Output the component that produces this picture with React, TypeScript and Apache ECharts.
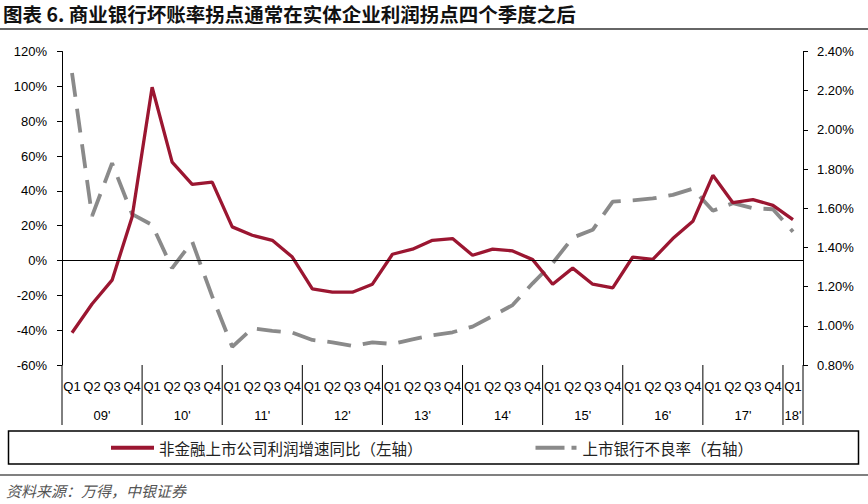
import React, { useEffect, useRef } from "react";
import * as echarts from "echarts";

const YEARS = ["09'", "10'", "11'", "12'", "13'", "14'", "15'", "16'", "17'", "18'"];
const QUARTERS_PER_YEAR = [4, 4, 4, 4, 4, 4, 4, 4, 4, 1];
const QUARTER_NAMES = ["Q1", "Q2", "Q3", "Q4"];

// 非金融上市公司利润增速同比 (%), left axis
const PROFIT_GROWTH = [
  -41.5, -25, -11.3, 25,
  99.5, 56.5, 43.7, 45,
  19.3, 14.5, 11.6, 2,
  -16.3, -18.2, -18.2, -13.6,
  3.6, 6.5, 11.6, 12.6,
  3, 6.5, 5.5, 0.5,
  -13.6, -4.4, -13.6, -15.7,
  2, 0.6, 12.6, 22.5,
  48.9, 33.2, 35, 31.7,
  23.5,
];

// 上市银行不良率 (%), right axis
const NPL_RATIO = [
  2.29, 1.56, 1.83, 1.57,
  1.515, 1.294, 1.43, 1.15,
  0.893, 0.987, 0.974, 0.965,
  0.928, 0.916, 0.897, 0.916,
  0.907, 0.931, 0.952, 0.967,
  0.996, 1.05, 1.106, 1.217,
  1.32, 1.45, 1.49, 1.634,
  1.64, 1.65, 1.668, 1.7,
  1.587, 1.626, 1.6, 1.595,
  1.48,
];

const LEFT_TICKS = { min: -60, max: 120, interval: 20 };
const RIGHT_TICKS = { min: 0.8, max: 2.4, interval: 0.2 };

const TITLE = "图表 6. 商业银行坏账率拐点通常在实体企业利润拐点四个季度之后";
const SOURCE = "资料来源：万得，中银证券";
const NAME_PROFIT = "非金融上市公司利润增速同比（左轴）";
const NAME_NPL = "上市银行不良率（右轴）";

const CATEGORIES: string[] = [];
const YEAR_SPANS: number[][] = [];
YEARS.forEach((y, k) => {
  YEAR_SPANS.push([CATEGORIES.length, QUARTERS_PER_YEAR[k], k]);
  for (let q = 0; q < QUARTERS_PER_YEAR[k]; q++) CATEGORIES.push(QUARTER_NAMES[q]);
});

const FONT = "'Liberation Sans', Arial, 'Noto Sans CJK SC', sans-serif";
const CJK = "'Noto Sans CJK SC', sans-serif";

export default function App() {
  const ref = useRef<HTMLDivElement>(null);
  useEffect(() => {
    if (!ref.current) return;
    const chart = echarts.init(ref.current, null, { renderer: "svg" });
    const option: any = {
      animation: false,
      backgroundColor: "#ffffff",
      textStyle: { fontFamily: FONT },
      grid: { left: 62, right: 65, top: 51.5, bottom: 139, containLabel: false },
      legend: {
        data: [
          { name: NAME_PROFIT, icon: "rect" },
          { name: NAME_NPL, icon: "path://M0,0H29V4H0Z M36,0H41V4H36Z" },
        ],
        left: 111,
        top: 440,
        padding: 0,
        itemWidth: 43,
        itemHeight: 4,
        itemGap: 113,
        itemStyle: { borderWidth: 0 },
        textStyle: { fontFamily: CJK, fontSize: 15.5, color: "#222" },
      },
      xAxis: {
        type: "category",
        data: CATEGORIES,
        boundaryGap: true,
        axisLine: { show: false },
        axisTick: { show: false },
        axisLabel: { interval: 0, margin: 15, fontSize: 13, color: "#000", fontFamily: FONT },
        splitLine: { show: false },
      },
      yAxis: [
        {
          type: "value",
          min: LEFT_TICKS.min,
          max: LEFT_TICKS.max,
          interval: LEFT_TICKS.interval,
          position: "left",
          axisLine: { show: true, lineStyle: { color: "#000", width: 1 } },
          axisTick: { show: true, length: 5, lineStyle: { color: "#000" } },
          axisLabel: { formatter: "{value}%", margin: 15, fontSize: 13, color: "#000" },
          splitLine: { show: false },
        },
        {
          type: "value",
          min: RIGHT_TICKS.min,
          max: RIGHT_TICKS.max,
          interval: RIGHT_TICKS.interval,
          position: "right",
          axisLine: { show: true, lineStyle: { color: "#000", width: 1 } },
          axisTick: { show: true, length: 5, lineStyle: { color: "#000" } },
          axisLabel: {
            formatter: (v: number) => v.toFixed(2) + "%",
            margin: 14,
            fontSize: 13,
            color: "#000",
          },
          splitLine: { show: false },
        },
      ],
      series: [
        {
          name: NAME_NPL,
          type: "line",
          yAxisIndex: 1,
          data: NPL_RATIO,
          symbol: "none",
          z: 2,
          lineStyle: { color: "#8A8A8A", width: 3.8, type: [24, 12] },
          itemStyle: { color: "#8A8A8A" },
        },
        {
          name: NAME_PROFIT,
          type: "line",
          yAxisIndex: 0,
          data: PROFIT_GROWTH,
          symbol: "none",
          z: 3,
          lineStyle: { color: "#9B1631", width: 3.3 },
          itemStyle: { color: "#9B1631" },
          markLine: {
            silent: true,
            symbol: ["none", "none"],
            label: { show: false },
            lineStyle: { color: "#000", width: 1, type: "solid" },
            data: [{ yAxis: 0 }],
          },
        },
        {
          name: "years",
          type: "custom",
          xAxisIndex: 0,
          yAxisIndex: 0,
          clip: false,
          silent: true,
          z: 1,
          data: YEAR_SPANS,
          renderItem: (params: any, api: any) => {
            const start = api.value(0);
            const count = api.value(1);
            const k = api.value(2);
            const band = api.size([1, 0])[0];
            const p = api.coord([start, LEFT_TICKS.min]);
            const x0 = p[0] - band / 2;
            const x1 = x0 + count * band;
            const yTop = p[1];
            const yBot = yTop + 60;
            const children: any[] = [
              {
                type: "line",
                shape: { x1: x0, y1: yTop, x2: x0, y2: yBot },
                style: { stroke: "#000", lineWidth: 1 },
              },
              {
                type: "text",
                style: {
                  x: (x0 + x1) / 2,
                  y: yTop + 50,
                  text: YEARS[k],
                  fill: "#000",
                  font: "13px " + FONT,
                  textAlign: "center",
                  textVerticalAlign: "middle",
                  align: "center",
                  verticalAlign: "middle",
                },
              },
            ];
            if (k === YEARS.length - 1) {
              children.push({
                type: "line",
                shape: { x1: x1, y1: yTop, x2: x1, y2: yBot },
                style: { stroke: "#000", lineWidth: 1 },
              });
            }
            return { type: "group", children };
          },
        },
      ],
      graphic: [
        {
          type: "text",
          left: 3,
          top: 4,
          style: {
            text: TITLE,
            fill: "#111",
            font: "bold 19.5px " + CJK,
          },
        },
        {
          type: "line",
          shape: { x1: 0, y1: 29, x2: 868, y2: 29 },
          style: { stroke: "#333", lineWidth: 1.5 },
        },
        {
          type: "rect",
          shape: { x: 8.5, y: 431, width: 850, height: 33 },
          style: { fill: "none", stroke: "#000", lineWidth: 1.5 },
        },
        {
          type: "line",
          shape: { x1: 0, y1: 475, x2: 868, y2: 475 },
          style: { stroke: "#808080", lineWidth: 2 },
        },
        {
          type: "text",
          left: 6,
          top: 483,
          style: {
            text: SOURCE,
            fill: "#555",
            font: "italic normal 15px " + CJK,
          },
        },
      ],
    };
    chart.setOption(option);
    return () => chart.dispose();
  }, []);
  return (
    <div
      ref={ref}
      style={{ position: "fixed", left: 0, top: 0, width: 868, height: 504, background: "#fff" }}
    />
  );
}
